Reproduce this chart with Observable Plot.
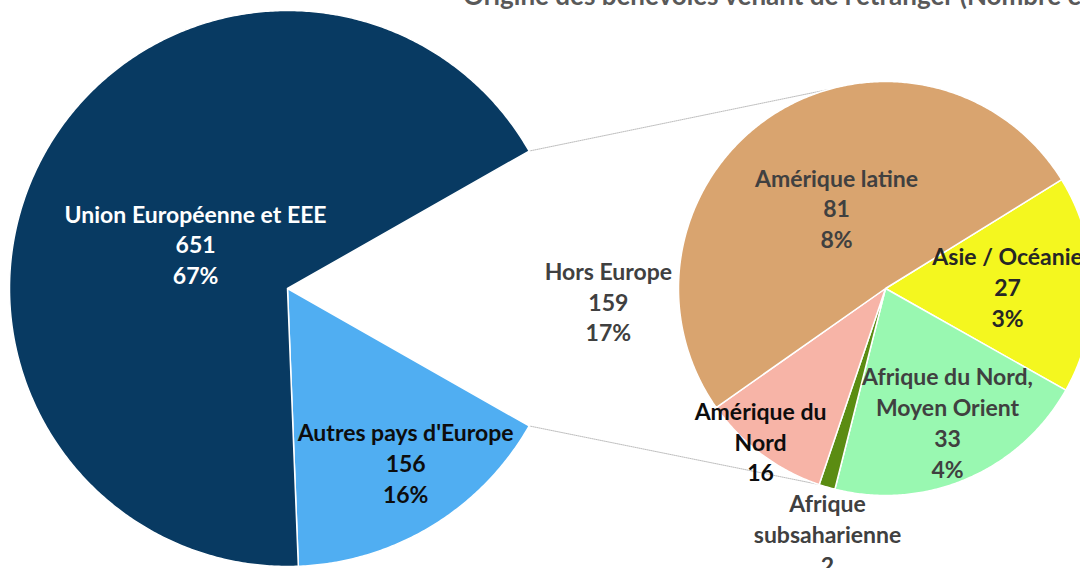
<!DOCTYPE html>
<html>
<head>
<meta charset="utf-8">
<script src="https://cdn.jsdelivr.net/npm/d3@7"></script>
<script src="https://cdn.jsdelivr.net/npm/@observablehq/plot@0.6"></script>
<style>
  html, body { margin: 0; padding: 0; background: #fff; overflow: hidden; }
  #wrap { position: relative; width: 1080px; height: 568px; overflow: hidden; }
  #title { position: absolute; left: 463px; top: -18px; white-space: nowrap;
           font-family: Lato, "Open Sans", sans-serif; font-weight: bold; font-size: 26px;
           line-height: 26px; color: #595959; }
</style>
</head>
<body>
<div id="wrap">
  <div id="chart"></div>
  <div id="title">Origine des bénévoles venant de l'étranger (Nombre et %)</div>
</div>
<script>
// ---- Data ----
const mainCategories = ["Hors Europe", "Autres pays d'Europe", "Union Européenne et EEE"];
const mainValues = [159, 156, 651];
const mainPercents = ["17%", "16%", "67%"];
const mainColors = ["#ffffff", "#50aef2", "#083a62"];
const mainTextColors = ["#404040", "#0d0d0d", "#ffffff"];

const subCategories = ["Asie / Océanie", "Afrique du Nord,\nMoyen Orient", "Afrique\nsubsaharienne", "Amérique du\nNord", "Amérique latine"];
const subValues = [27, 33, 2, 16, 81];
const subPercents = ["3%", "4%", "", "", "8%"];
const subColors = ["#f4f71f", "#99f8b1", "#5b8c12", "#f7b4a7", "#d9a46f"];
const subTextColors = ["#262626", "#404040", "#404040", "#0d0d0d", "#404040"];

// ---- Layout ----
const W = 1080, H = 568;
const main = {cx: 287, cy: 288, r: 278};
const sub = {cx: 885, cy: 288, r: 207};
const subStartDeg = 58.3;
const mainLabelRadius = [1.155, 0.756, 0.368];
const mainLabelShiftDeg = [2.2, -2.9, -3.0];
const subLabelRadius = [0.59, 0.709, 1.216, 0.951, 0.457];
const subLabelShiftDeg = [0, -1.8, -3.1, 2.6, 2.2];
const connectorSubDeg = [344, 198.8];

const rad = d => d * Math.PI / 180;

function slices(values, start) {
  const total = d3.sum(values);
  let a = start;
  return values.map((v, i) => {
    const a0 = a; a += 2 * Math.PI * v / total;
    return {i, a0, a1: a, mid: (a0 + a) / 2};
  });
}
const pt = (c, r, a) => ({x: c.cx + r * Math.sin(a), y: c.cy - r * Math.cos(a)});

const mainStart = Math.PI / 2 - Math.PI * mainValues[0] / d3.sum(mainValues);
const mainSlices = slices(mainValues, mainStart);
const subSlices = slices(subValues, rad(subStartDeg));

function polys(sl, c, colors, prefix) {
  const out = [];
  sl.forEach(s => {
    const key = prefix + s.i;
    out.push({...pt(c, 0, 0), key, color: colors[s.i]});
    const n = Math.max(2, Math.ceil((s.a1 - s.a0) / rad(0.5)));
    for (let k = 0; k <= n; k++) {
      out.push({...pt(c, c.r, s.a0 + (s.a1 - s.a0) * k / n), key, color: colors[s.i]});
    }
  });
  return out;
}
const pieData = [...polys(mainSlices, main, mainColors, "m"), ...polys(subSlices, sub, subColors, "s")];

const labels = [
  ...mainSlices.map(s => ({...pt(main, main.r * mainLabelRadius[s.i], s.mid + rad(mainLabelShiftDeg[s.i])),
    text: [mainCategories[s.i], mainValues[s.i], mainPercents[s.i]].filter(t => t !== "").join("\n"),
    tc: mainTextColors[s.i]})),
  ...subSlices.map(s => ({...pt(sub, sub.r * subLabelRadius[s.i], s.mid + rad(subLabelShiftDeg[s.i])),
    text: [subCategories[s.i], subValues[s.i], subPercents[s.i]].filter(t => t !== "").join("\n"),
    tc: subTextColors[s.i]}))
];

// connector lines: Hors Europe slice edges on main pie to the second pie
const hors = mainSlices[0];
const connectors = [
  {k: 0, ...pt(main, main.r, hors.a0)}, {k: 0, ...pt(sub, sub.r, rad(connectorSubDeg[0]))},
  {k: 1, ...pt(main, main.r, hors.a1)}, {k: 1, ...pt(sub, sub.r, rad(connectorSubDeg[1]))}
];

const chart = Plot.plot({
  width: W, height: H, margin: 0,
  x: {domain: [0, W], range: [0, W], axis: null},
  y: {domain: [0, H], range: [0, H], axis: null},
  color: {type: "identity"},
  style: {fontFamily: "Lato, 'Open Sans', sans-serif", background: "#fff"},
  marks: [
    Plot.line(connectors, {x: "x", y: "y", z: "k", stroke: "#bdbdbd", strokeWidth: 1, strokeDasharray: "1,1"}),
    Plot.line(pieData, {x: "x", y: "y", z: "key", fill: "color", stroke: "white", strokeWidth: 1.5, curve: "linear-closed"}),
    Plot.text(labels, {x: "x", y: "y", text: "text", fill: "tc", fontSize: 23, fontWeight: "bold", lineHeight: 1.34})
  ]
});
document.getElementById("chart").appendChild(chart);
</script>
</body>
</html>
